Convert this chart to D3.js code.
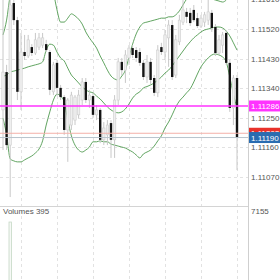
<!DOCTYPE html>
<html><head><meta charset="utf-8">
<script src="https://cdn.jsdelivr.net/npm/d3@7"></script>
<style>html,body{margin:0;padding:0;background:#fff;overflow:hidden}</style>
</head><body><svg id="c" width="280" height="280"></svg>
<script>
// ---- data (prices) ----
const open = [1.11274,1.11389,1.11167,1.11599,1.11547,1.11329,1.11450,1.11438,1.11465,1.11447,1.11465,1.11471,1.11474,1.11450,1.11329,1.11417,1.11341,1.11313,1.11213,1.11228,1.11243,1.11259,1.11304,1.11359,1.11304,1.11316,1.11259,1.11274,1.11183,1.11198,1.11234,1.11183,1.11304,1.11420,1.11395,1.11432,1.11462,1.11456,1.11450,1.11417,1.11374,1.11420,1.11371,1.11326,1.11465,1.11450,1.11493,1.11532,1.11380,1.11481,1.11541,1.11572,1.11569,1.11578,1.11553,1.11529,1.11541,1.11547,1.11569,1.11526,1.11447,1.11471,1.11508,1.11417,1.11280,1.11371];
const high = [1.11623,1.11411,1.11669,1.11633,1.11557,1.11508,1.11502,1.11502,1.11474,1.11508,1.11508,1.11508,1.11487,1.11456,1.11420,1.11426,1.11350,1.11319,1.11310,1.11329,1.11319,1.11335,1.11371,1.11371,1.11335,1.11326,1.11289,1.11280,1.11237,1.11243,1.11243,1.11319,1.11432,1.11432,1.11456,1.11471,1.11471,1.11465,1.11462,1.11426,1.11441,1.11432,1.11380,1.11471,1.11478,1.11517,1.11547,1.11547,1.11502,1.11563,1.11608,1.11584,1.11584,1.11593,1.11569,1.11563,1.11572,1.11617,1.11578,1.11535,1.11502,1.11511,1.11517,1.11426,1.11380,1.11380];
const low = [1.11152,1.11152,1.11009,1.11532,1.11304,1.11274,1.11426,1.11432,1.11438,1.11441,1.11456,1.11462,1.11450,1.11319,1.11319,1.11316,1.11304,1.11198,1.11116,1.11213,1.11228,1.11249,1.11289,1.11295,1.11280,1.11249,1.11243,1.11173,1.11167,1.11167,1.11128,1.11128,1.11289,1.11380,1.11356,1.11411,1.11432,1.11420,1.11408,1.11365,1.11356,1.11353,1.11316,1.11313,1.11441,1.11426,1.11405,1.11365,1.11371,1.11471,1.11532,1.11538,1.11529,1.11541,1.11523,1.11523,1.11526,1.11532,1.11511,1.11438,1.11441,1.11447,1.11411,1.11268,1.11228,1.11091];
const close = [1.11389,1.11167,1.11593,1.11547,1.11329,1.11450,1.11438,1.11487,1.11447,1.11487,1.11493,1.11493,1.11456,1.11335,1.11411,1.11341,1.11313,1.11213,1.11304,1.11319,1.11313,1.11319,1.11359,1.11304,1.11319,1.11259,1.11274,1.11183,1.11219,1.11228,1.11183,1.11304,1.11420,1.11395,1.11441,1.11462,1.11441,1.11432,1.11417,1.11374,1.11420,1.11365,1.11326,1.11456,1.11450,1.11502,1.11532,1.11374,1.11487,1.11547,1.11578,1.11557,1.11538,1.11547,1.11529,1.11553,1.11563,1.11572,1.11523,1.11447,1.11487,1.11502,1.11417,1.11280,1.11371,1.11190];
const bbUpper = [1.11502,1.11547,1.11623,1.11666,1.11675,1.11681,1.11681,1.11681,1.11681,1.11678,1.11672,1.11660,1.11684,1.11681,1.11633,1.11578,1.11541,1.11541,1.11553,1.11566,1.11560,1.11550,1.11535,1.11511,1.11493,1.11478,1.11462,1.11438,1.11417,1.11395,1.11377,1.11368,1.11365,1.11377,1.11395,1.11435,1.11474,1.11505,1.11526,1.11538,1.11541,1.11544,1.11547,1.11550,1.11553,1.11553,1.11557,1.11557,1.11563,1.11575,1.11593,1.11611,1.11620,1.11626,1.11623,1.11617,1.11614,1.11611,1.11611,1.11608,1.11605,1.11602,1.11608,1.11623,1.11633,1.11645];
const bbMiddle = [1.11377,1.11380,1.11389,1.11392,1.11395,1.11398,1.11401,1.11405,1.11408,1.11411,1.11414,1.11420,1.11456,1.11474,1.11471,1.11450,1.11432,1.11423,1.11401,1.11380,1.11368,1.11356,1.11344,1.11335,1.11329,1.11326,1.11316,1.11307,1.11295,1.11283,1.11274,1.11268,1.11265,1.11268,1.11277,1.11292,1.11310,1.11322,1.11329,1.11341,1.11345,1.11350,1.11356,1.11365,1.11374,1.11386,1.11395,1.11408,1.11423,1.11438,1.11453,1.11468,1.11481,1.11493,1.11502,1.11511,1.11517,1.11520,1.11523,1.11526,1.11526,1.11523,1.11514,1.11499,1.11478,1.11456];
const bbLower = [1.11249,1.11198,1.11125,1.11119,1.11116,1.11116,1.11122,1.11128,1.11134,1.11143,1.11155,1.11180,1.11228,1.11268,1.11304,1.11322,1.11316,1.11298,1.11243,1.11195,1.11167,1.11152,1.11146,1.11152,1.11161,1.11177,1.11177,1.11180,1.11177,1.11177,1.11170,1.11167,1.11164,1.11161,1.11158,1.11152,1.11146,1.11137,1.11128,1.11140,1.11146,1.11152,1.11164,1.11180,1.11195,1.11219,1.11237,1.11259,1.11283,1.11301,1.11313,1.11326,1.11338,1.11359,1.11383,1.11405,1.11420,1.11432,1.11441,1.11444,1.11441,1.11435,1.11420,1.11374,1.11322,1.11280];
const volumes = [1210,2150,6540,1890,1520,980,760,640,590,610,540,500,620,1100,870,760,690,1350,1240,880,720,650,700,640,580,710,560,830,780,690,920,1040,1150,820,760,640,600,590,620,740,680,710,760,980,620,760,700,1260,950,880,820,610,590,640,560,520,540,610,580,820,600,560,740,1120,960,395];
const priceTicks = [1.1107,1.1116,1.1125,1.1134,1.1143,1.1152,1.1161];
const timeGridIdx = [5,15,25,35,45,55,65];
const markPrice = 1.11286, bidPrice = 1.11203, lastPrice = 1.11190;
const volumeMaxLabel = 7155, volumeLast = 395;

// ---- layout ----
const W = 280, plotR = 248, mainBottom = 206;
const svg = d3.select('#c');
const n = close.length;
const x = d3.scaleLinear().domain([0, n-1]).range([3, 237]);
const y = d3.scaleLinear().domain([1.1107, 1.1152]).range([177, 29]);
const yv = d3.scaleLinear().domain([0, volumeMaxLabel]).range([350, 210]);
const font = 'Liberation Sans, Arial, sans-serif';

svg.append('rect').attr('width', W).attr('height', 280).attr('fill', '#fff');
const defs = svg.append('defs');
defs.append('clipPath').attr('id','mainClip').append('rect').attr('x',0).attr('y',0).attr('width',plotR).attr('height',mainBottom);
defs.append('clipPath').attr('id','volClip').append('rect').attr('x',0).attr('y',mainBottom).attr('width',plotR).attr('height',280-mainBottom);

// grid
const grid = svg.append('g').attr('stroke','#e2e2e2').attr('stroke-width',1).attr('stroke-dasharray','3,3');
grid.selectAll('line.h').data(priceTicks).join('line').attr('class','h')
  .attr('x1',0).attr('x2',plotR).attr('y1',d=>Math.round(y(d))+0.5).attr('y2',d=>Math.round(y(d))+0.5);
grid.selectAll('line.v').data(timeGridIdx).join('line').attr('class','v')
  .attr('x1',d=>Math.round(x(d))+0.5).attr('x2',d=>Math.round(x(d))+0.5).attr('y1',0).attr('y2',280);

const main = svg.append('g').attr('clip-path','url(#mainClip)');
// bollinger bands
const line = arr => d3.line().x((d,i)=>x(i)).y(d=>y(d)).curve(d3.curveMonotoneX)(arr);
[bbUpper, bbMiddle, bbLower].forEach(arr => {
  main.append('path').attr('d', line(arr)).attr('fill','none').attr('stroke','#4f9a4f').attr('stroke-width',0.9);
});
// candles
const idx = d3.range(n);
main.selectAll('line.wick').data(idx).join('line').attr('class','wick')
  .attr('x1',i=>x(i)).attr('x2',i=>x(i)).attr('y1',i=>y(high[i])).attr('y2',i=>y(low[i]))
  .attr('stroke','#c8c8c8').attr('stroke-width',1);
const bw = 2.4;
main.selectAll('rect.body').data(idx).join('rect').attr('class','body')
  .attr('x',i=>x(i)-bw/2).attr('width',bw)
  .attr('y',i=>y(Math.max(open[i],close[i])))
  .attr('height',i=>Math.max(1, Math.abs(y(open[i])-y(close[i]))))
  .attr('fill',i=>close[i]>=open[i] ? '#efefef' : '#141414')
  .attr('stroke',i=>close[i]>=open[i] ? '#cdcdcd' : 'none').attr('stroke-width',0.6);

// level lines
svg.append('line').attr('x1',0).attr('x2',plotR).attr('y1',y(bidPrice)).attr('y2',y(bidPrice)).attr('stroke','#f3b0a8').attr('stroke-width',1);
svg.append('line').attr('x1',0).attr('x2',plotR).attr('y1',y(lastPrice)).attr('y2',y(lastPrice)).attr('stroke','#b8c4cc').attr('stroke-width',1);
svg.append('line').attr('x1',0).attr('x2',plotR+1).attr('y1',y(markPrice)).attr('y2',y(markPrice)).attr('stroke','#ff33ff').attr('stroke-width',1.6);

// volume
svg.append('g').attr('clip-path','url(#volClip)').selectAll('rect').data(idx).join('rect')
  .attr('x',i=>x(i)-1.2).attr('width',2.4).attr('y',i=>yv(volumes[i])).attr('height',i=>yv(0)-yv(volumes[i]))
  .attr('fill','#f6f9f6').attr('stroke','#c5d8c5').attr('stroke-width',0.8);

// frame lines
svg.append('line').attr('x1',plotR+0.5).attr('x2',plotR+0.5).attr('y1',0).attr('y2',280).attr('stroke','#cfcfcf');
svg.append('line').attr('x1',0).attr('x2',plotR).attr('y1',mainBottom+0.5).attr('y2',mainBottom+0.5).attr('stroke','#d4d4d4');

// axis labels
const fmt = d3.format('.5f');
svg.selectAll('text.tick').data(priceTicks).join('text').attr('class','tick')
  .attr('x',251).attr('y',d=>y(d)+3).attr('font-family',font).attr('font-size',8).attr('fill','#555')
  .text(d=>fmt(d));
function tag(price, fill){
  const g = svg.append('g');
  g.append('rect').attr('x',plotR+1).attr('y',y(price)-5.5).attr('width',W-plotR-1).attr('height',11).attr('fill',fill);
  g.append('text').attr('x',251).attr('y',y(price)+3).attr('font-family',font).attr('font-size',8).attr('fill','#fff').text(fmt(price));
}
tag(markPrice,'#ff33ff');
tag(bidPrice,'#e8312a');
tag(lastPrice,'#2a6cb0');

svg.append('text').attr('x',3).attr('y',213.5).attr('font-family',font).attr('font-size',8).attr('fill','#555').text('Volumes ' + volumeLast);
svg.append('text').attr('x',251).attr('y',213.5).attr('font-family',font).attr('font-size',8).attr('fill','#555').text(volumeMaxLabel);
</script></body></html>
